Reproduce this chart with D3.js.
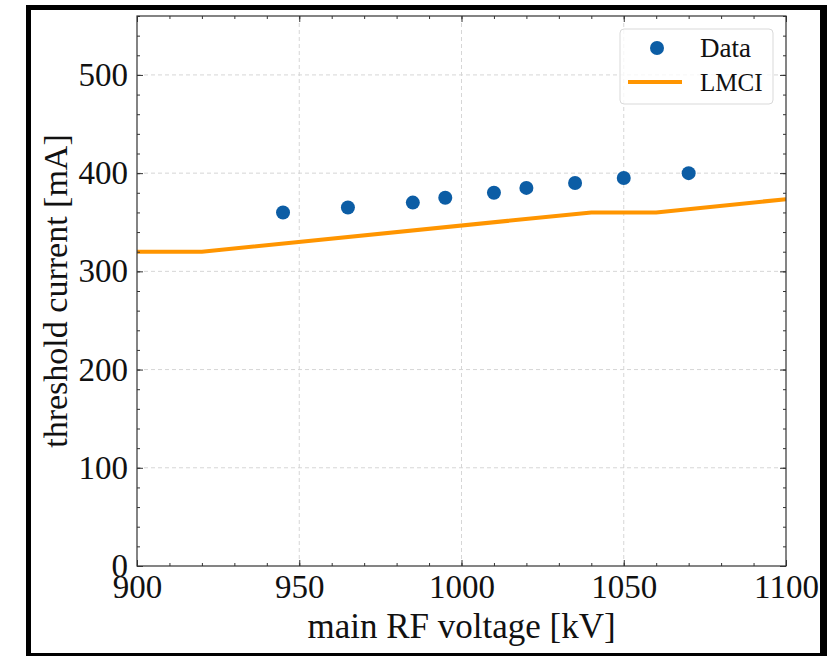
<!DOCTYPE html>
<html>
<head>
<meta charset="utf-8">
<script src="https://cdn.jsdelivr.net/npm/d3@7"></script>
<style>
  body { margin: 0; background: #fff; }
  svg { display: block; }
</style>
</head>
<body>
<script>
// measured points
var dataVoltage = [945, 965, 985, 995, 1010, 1020, 1035, 1050, 1070];
var dataCurrent = [360, 365, 370, 375, 380, 385, 390, 395, 400];

// LMCI prediction
var lmciVoltage = [900, 920, 1040, 1060, 1100];
var lmciCurrent = [320, 320, 360, 360, 373.5];

var xTicks = [900, 950, 1000, 1050, 1100];
var yTicks = [0, 100, 200, 300, 400, 500];

var serif = '"Liberation Serif", "Times New Roman", serif';

var width = 828, height = 656;
var margin = {top: 16, right: 42, bottom: 90, left: 137};

var svg = d3.select("body").append("svg")
    .attr("width", width)
    .attr("height", height);

// black outer frame
svg.append("rect").attr("x", 26).attr("y", 5).attr("width", 801).attr("height", 5).attr("fill", "#000");
svg.append("rect").attr("x", 26).attr("y", 5).attr("width", 5).attr("height", 651).attr("fill", "#000");
svg.append("rect").attr("x", 820).attr("y", 5).attr("width", 7).attr("height", 651).attr("fill", "#000");
svg.append("rect").attr("x", 26).attr("y", 653).attr("width", 801).attr("height", 3).attr("fill", "#000");

var x = d3.scaleLinear().domain([900, 1100]).range([margin.left, width - margin.right]);
var y = d3.scaleLinear().domain([0, 560]).range([height - margin.bottom, margin.top]);

var x0 = x.range()[0], x1 = x.range()[1];
var y0 = y.range()[0], y1 = y.range()[1];

// grid
var grid = svg.append("g").attr("class", "grid");
grid.selectAll("line.gx")
    .data(xTicks.slice(1, -1))
    .enter().append("line")
    .attr("x1", function (d) { return x(d); })
    .attr("x2", function (d) { return x(d); })
    .attr("y1", y0).attr("y2", y1)
    .attr("stroke", "#d6d6d6").attr("stroke-width", 1).attr("stroke-dasharray", "4,3");
grid.selectAll("line.gy")
    .data(yTicks.slice(1))
    .enter().append("line")
    .attr("y1", function (d) { return y(d); })
    .attr("y2", function (d) { return y(d); })
    .attr("x1", x0).attr("x2", x1)
    .attr("stroke", "#d6d6d6").attr("stroke-width", 1).attr("stroke-dasharray", "4,3");

// LMCI line
var line = d3.line()
    .x(function (d) { return x(d[0]); })
    .y(function (d) { return y(d[1]); });

svg.append("path")
    .datum(d3.zip(lmciVoltage, lmciCurrent))
    .attr("d", line)
    .attr("fill", "none")
    .attr("stroke", "#FF9500")
    .attr("stroke-width", 4);

// data points
svg.selectAll("circle.pt")
    .data(d3.zip(dataVoltage, dataCurrent))
    .enter().append("circle")
    .attr("class", "pt")
    .attr("cx", function (d) { return x(d[0]); })
    .attr("cy", function (d) { return y(d[1]); })
    .attr("r", 7)
    .attr("fill", "#0C5DA5");

// axes, ticks inward on all sides
var xMinor = d3.range(900, 1101, 10);
var yMinor = d3.range(0, 561, 20);

function styleAxis(g) {
    g.select(".domain").remove();
    g.attr("font-family", null);
    g.selectAll("line").attr("stroke", "#333").attr("stroke-width", 1);
    g.selectAll("text")
        .style("font-family", serif)
        .style("font-size", "33px")
        .attr("fill", "#111");
}

svg.append("g")
    .attr("transform", "translate(0," + y0 + ")")
    .call(d3.axisBottom(x).tickValues(xMinor).tickSize(-3).tickFormat(""))
    .call(styleAxis);
svg.append("g")
    .attr("transform", "translate(0," + y0 + ")")
    .call(d3.axisBottom(x).tickValues(xTicks).tickSize(-6).tickPadding(9).tickFormat(d3.format("d")))
    .call(styleAxis);
svg.append("g")
    .attr("transform", "translate(0," + y1 + ")")
    .call(d3.axisTop(x).tickValues(xMinor).tickSize(-3).tickFormat(""))
    .call(styleAxis);
svg.append("g")
    .attr("transform", "translate(0," + y1 + ")")
    .call(d3.axisTop(x).tickValues(xTicks).tickSize(-6).tickFormat(""))
    .call(styleAxis);

svg.append("g")
    .attr("transform", "translate(" + x0 + ",0)")
    .call(d3.axisLeft(y).tickValues(yMinor).tickSize(-3).tickFormat(""))
    .call(styleAxis);
svg.append("g")
    .attr("transform", "translate(" + x0 + ",0)")
    .call(d3.axisLeft(y).tickValues(yTicks).tickSize(-6).tickPadding(9).tickFormat(d3.format("d")))
    .call(styleAxis);
svg.append("g")
    .attr("transform", "translate(" + x1 + ",0)")
    .call(d3.axisRight(y).tickValues(yMinor).tickSize(-3).tickFormat(""))
    .call(styleAxis);
svg.append("g")
    .attr("transform", "translate(" + x1 + ",0)")
    .call(d3.axisRight(y).tickValues(yTicks).tickSize(-6).tickFormat(""))
    .call(styleAxis);

// plot frame
svg.append("rect")
    .attr("x", x0).attr("y", y1)
    .attr("width", x1 - x0).attr("height", y0 - y1)
    .attr("fill", "none")
    .attr("stroke", "#333")
    .attr("stroke-width", 1.2);

// axis labels
svg.append("text")
    .attr("x", (x0 + x1) / 2)
    .attr("y", 638)
    .attr("text-anchor", "middle")
    .style("font-family", serif)
    .style("font-size", "35px")
    .attr("fill", "#111")
    .text("main RF voltage [kV]");

svg.append("text")
    .attr("transform", "translate(67," + (y0 + y1) / 2 + ") rotate(-90)")
    .attr("text-anchor", "middle")
    .style("font-family", serif)
    .style("font-size", "34px")
    .attr("fill", "#111")
    .text("threshold current [mA]");

// legend
var legend = svg.append("g").attr("transform", "translate(620,29)");
legend.append("rect")
    .attr("width", 153).attr("height", 75)
    .attr("rx", 4)
    .attr("fill", "#fff").attr("fill-opacity", 0.8)
    .attr("stroke", "#d9d9d9").attr("stroke-width", 1);
legend.append("circle")
    .attr("cx", 37).attr("cy", 19).attr("r", 7)
    .attr("fill", "#0C5DA5");
legend.append("line")
    .attr("x1", 8).attr("x2", 62).attr("y1", 53).attr("y2", 53)
    .attr("stroke", "#FF9500").attr("stroke-width", 4);
legend.append("text")
    .attr("x", 80).attr("y", 28)
    .style("font-family", serif)
    .style("font-size", "27px")
    .attr("fill", "#111")
    .text("Data");
legend.append("text")
    .attr("x", 80).attr("y", 62)
    .style("font-family", serif)
    .style("font-size", "25px")
    .attr("fill", "#111")
    .text("LMCI");
</script>
</body>
</html>
